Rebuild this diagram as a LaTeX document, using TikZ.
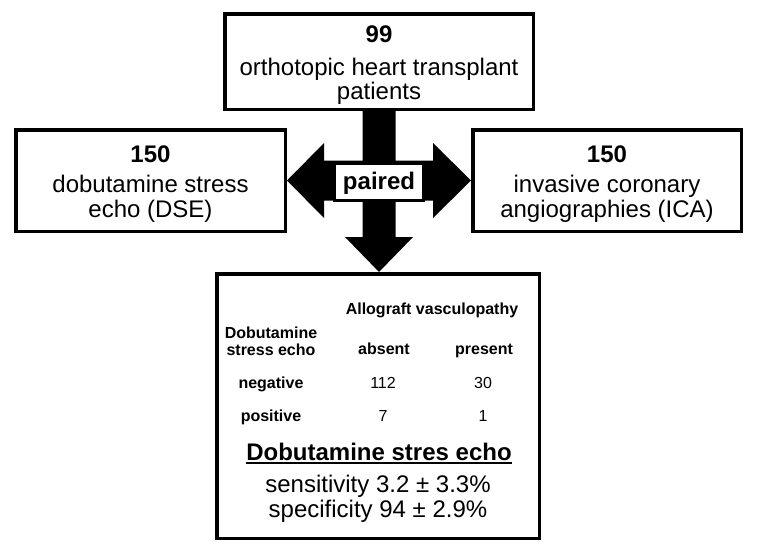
\documentclass[tikz,border=0pt]{standalone}
\usepackage{fontspec}
\setmainfont{Liberation Sans}
\usetikzlibrary{calc}
\begin{document}
\begin{tikzpicture}[x=1pt,y=-1pt,
  box/.style={draw=black, line width=3.5pt, fill=white, inner sep=0pt},
  big/.style={font=\fontsize{24}{28}\selectfont, anchor=base, inner sep=0pt},
  bigb/.style={font=\fontsize{24}{28}\selectfont\bfseries, anchor=base, inner sep=0pt},
  small/.style={font=\fontsize{16}{19}\selectfont, anchor=base, inner sep=0pt},
  smallb/.style={font=\fontsize{16}{19}\selectfont\bfseries, anchor=base, inner sep=0pt},
  blockarrow/.style={fill=black}]
\useasboundingbox[fill=white] (0,0) rectangle (757,555);

% boxes
\node[box, minimum width=308.5pt, minimum height=95.5pt] (T) at (379,61.5) {};
\node[box, minimum width=269.5pt, minimum height=101.5pt] (L) at (150.5,180.5) {};
\node[box, minimum width=268.5pt, minimum height=101.5pt] (R) at (607,180.5) {};
\node[box, minimum width=322.5pt, minimum height=264.5pt] (B) at (378,406) {};

% horizontal double block arrow
\fill[blockarrow] (L.east) -- ++(37,-37.5) -- ++(0,17.5) -- ($(R.west)+(-38,-20)$)
  -- ++(0,-17.5) -- (R.west) -- ++(-38,37.5) -- ++(0,-17.5)
  -- ($(L.east)+(37,20)$) -- ++(0,17.5) -- cycle;

% vertical block arrow
\coordinate (tipD) at (T.south |- B.north);
\fill[blockarrow] ($(T.south)+(-16.5,-1)$) -- ($(tipD)+(-16.5,-35)$) -- ($(tipD)+(-34,-35)$)
  -- (tipD) -- ($(tipD)+(34,-35)$) -- ($(tipD)+(16.5,-35)$) -- ($(T.south)+(16.5,-1)$) -- cycle;

% paired box
\node[box, line width=3pt, minimum width=89pt, minimum height=37pt] (P) at (379,182) {};
\node[bigb] (Pt) at (379,189) {paired};

% top box text
\node[bigb] (T1) at (379,42) {99};
\node[big] (T2) at (379,75) {orthotopic heart transplant};
\node[big] (T3) at (379,99) {patients};

% left box text
\node[bigb] (L1) at (150.5,162) {150};
\node[big] (L2) at (150.5,192) {dobutamine stress};
\node[big] (L3) at (150.5,217) {echo (DSE)};

% right box text
\node[bigb] (R1) at (607,162) {150};
\node[big] (R2) at (607,192) {invasive coronary};
\node[big] (R3) at (607,217) {angiographies (ICA)};

% bottom box table
\node[smallb] (av) at (432,314) {Allograft vasculopathy};
\node[smallb] (d1) at (271,338) {Dobutamine};
\node[smallb] (d2) at (271,355) {stress echo};
\node[smallb] (ab) at (384,354) {absent};
\node[smallb] (pr) at (484,354) {present};
\node[smallb] (ng) at (271,388) {negative};
\node[small] (n1) at (383,388) {112};
\node[small] (n2) at (483,388) {30};
\node[smallb] (ps) at (271,421) {positive};
\node[small] (p1) at (383,421) {7};
\node[small] (p2) at (483,421) {1};

% summary
\node[bigb] (H) at (379,460) {Dobutamine stres echo};
\draw[line width=1.8pt] ($(H.base west)+(0,3)$) -- ($(H.base east)+(0,3)$);
\node[big] (S1) at (378,492) {sensitivity 3.2 ± 3.3\%};
\node[big] (S2) at (378,517) {specificity 94 ± 2.9\%};
\end{tikzpicture}
\end{document}
